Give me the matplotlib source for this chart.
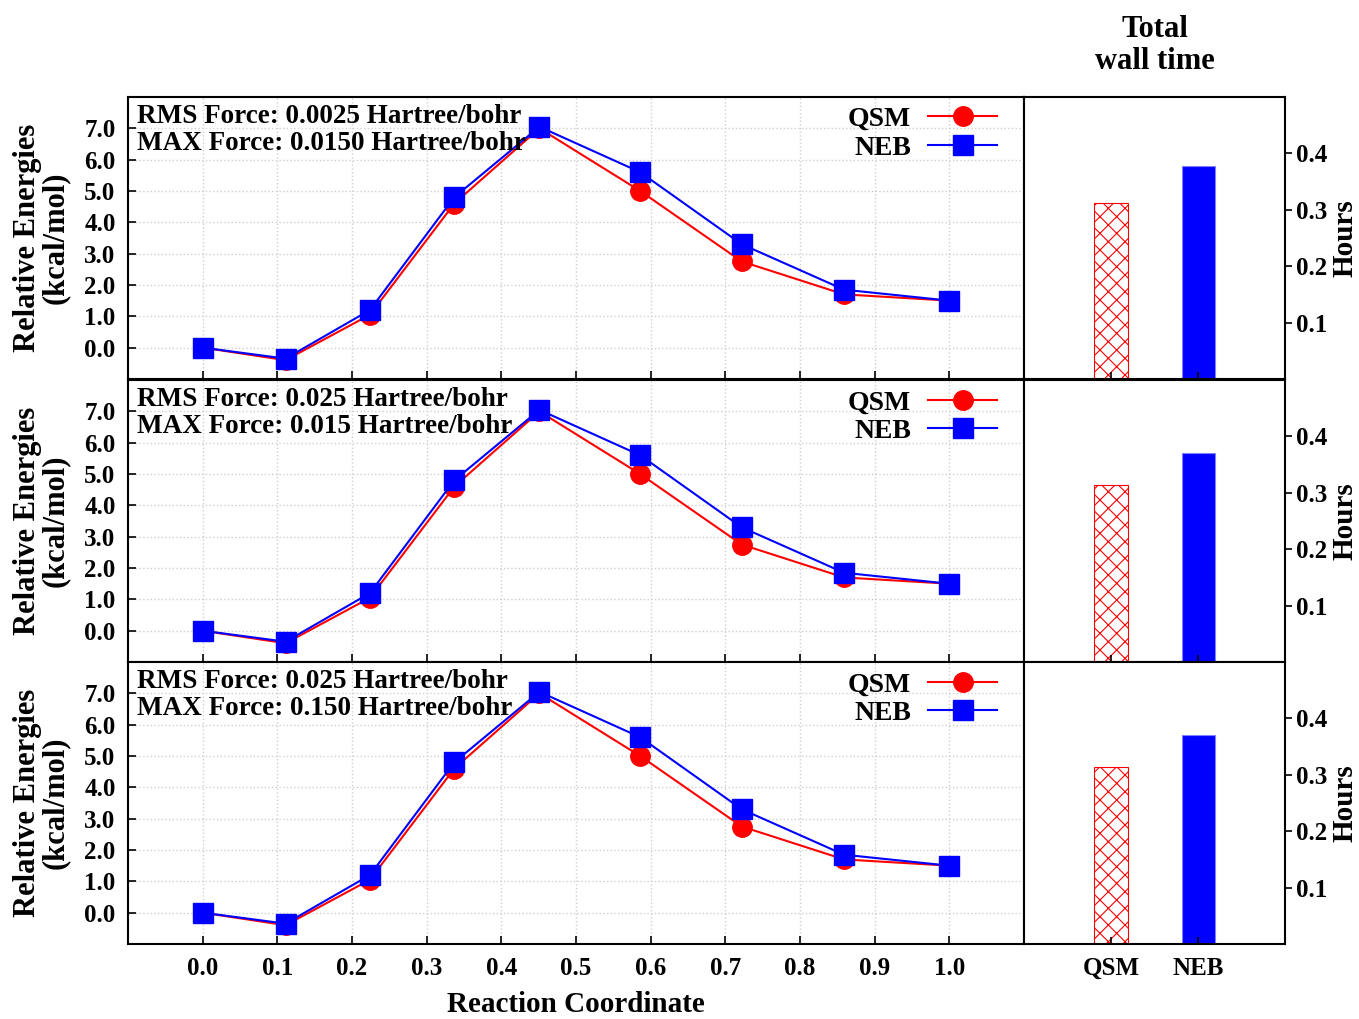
import numpy as np
import matplotlib.pyplot as plt

plt.rcParams['font.family'] = ['Liberation Serif', 'DejaVu Serif']
plt.rcParams['font.weight'] = 'bold'
plt.rcParams['axes.labelweight'] = 'bold'
plt.rcParams['axes.titleweight'] = 'bold'
plt.rcParams['hatch.linewidth'] = 0.8

# reaction coordinate of the images along the path
coord = [0.0, 0.111, 0.224, 0.337, 0.451, 0.586, 0.722, 0.859, 1.0]
qsm_e = [0.0, -0.40, 1.05, 4.60, 7.00, 5.00, 2.75, 1.70, 1.50]
neb_e = [0.0, -0.35, 1.20, 4.80, 7.05, 5.60, 3.30, 1.85, 1.50]

rms_force = ['0.0025', '0.025', '0.025']
max_force = ['0.0150', '0.015', '0.150']

methods = ['QSM', 'NEB']
wall_time = [[0.312, 0.377], [0.314, 0.371], [0.314, 0.371]]

xticks = [0.0, 0.1, 0.2, 0.3, 0.4, 0.5, 0.6, 0.7, 0.8, 0.9, 1.0]
yticks = [0.0, 1.0, 2.0, 3.0, 4.0, 5.0, 6.0, 7.0]
hticks = [0.1, 0.2, 0.3, 0.4]

fig = plt.figure(figsize=(13.59, 10.19), dpi=100)

bottoms = [0.6281, 0.3503, 0.0736]
h = 0.2767
for i in range(3):
    ax = fig.add_axes([0.0942, bottoms[i], 0.6593, h])
    ax.plot(coord, qsm_e, color='red', lw=1.5, marker='o', ms=14, label='QSM')
    ax.plot(coord, neb_e, color='blue', lw=1.5, marker='s', ms=14, label='NEB')
    ax.set_xlim(-0.1, 1.1)
    ax.set_ylim(-1, 8)
    ax.set_xticks(xticks)
    ax.set_yticks(yticks)
    ax.set_yticklabels(['%.1f' % v for v in yticks], fontsize=18)
    if i == 2:
        ax.set_xticklabels(['%.1f' % v for v in xticks], fontsize=18)
        ax.set_xlabel('Reaction Coordinate', fontsize=21, labelpad=8)
    else:
        ax.set_xticklabels([])
    ax.tick_params(direction='in', length=6, width=1.2, pad=9)
    ax.grid(True, ls=':', color='#d0d0d0', lw=1)
    ax.set_ylabel('Relative Energies\n(kcal/mol)', fontsize=22, labelpad=10, linespacing=0.95)
    for s in ax.spines.values():
        s.set_linewidth(1.5)
    ax.text(0.01, 0.975, 'RMS Force: %s Hartree/bohr\nMAX Force: %s Hartree/bohr' % (rms_force[i], max_force[i]),
            transform=ax.transAxes, ha='left', va='top', fontsize=19.5, linespacing=1.12)
    ax.legend(loc='upper right', bbox_to_anchor=(0.978, 0.99), frameon=False, markerfirst=False,
              fontsize=20, handlelength=2.5, borderaxespad=0.15, labelspacing=0.12,
              handletextpad=0.6, borderpad=0.1)

    bx = fig.add_axes([0.7535, bottoms[i], 0.1921, h])
    bx.bar([0], [wall_time[i][0]], width=0.38, facecolor='white', edgecolor='red',
           hatch='xx', lw=0.8)
    bx.bar([1], [wall_time[i][1]], width=0.38, color='blue', edgecolor='#8080ff', lw=0.8)
    bx.set_xlim(-1, 2)
    bx.set_ylim(0, 0.5)
    bx.yaxis.tick_right()
    bx.yaxis.set_label_position('right')
    bx.set_yticks(hticks)
    bx.set_yticklabels(['%.1f' % v for v in hticks], fontsize=18)
    bx.tick_params(axis='y', direction='out', length=5, width=1.2, pad=3)
    bx.set_xticks([0, 1])
    bx.tick_params(axis='x', direction='in', length=5, width=1.2, pad=9)
    if i == 2:
        bx.set_xticklabels(methods, fontsize=18)
    else:
        bx.set_xticklabels([])
    bx.set_ylabel('Hours', fontsize=21, labelpad=3)
    for s in bx.spines.values():
        s.set_linewidth(1.5)
    if i == 0:
        bx.set_title('Total\nwall time', fontsize=22, pad=20, linespacing=1.15)

fig.savefig('out.png', dpi=100)
